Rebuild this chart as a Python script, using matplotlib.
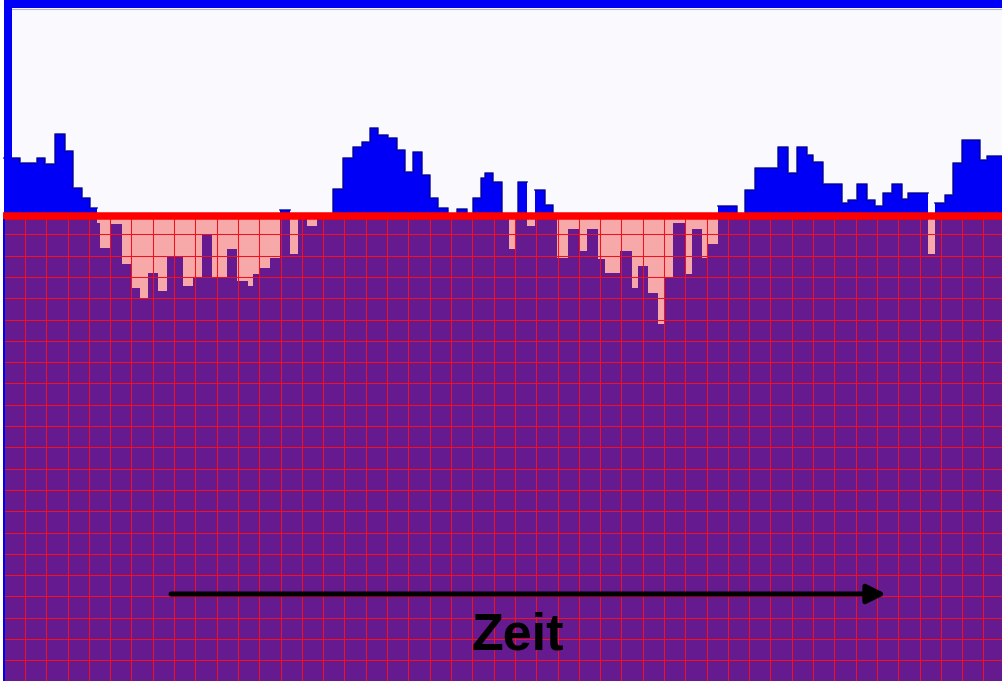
import matplotlib
matplotlib.use("Agg")
import matplotlib.pyplot as plt
import numpy as np
from matplotlib.patches import Rectangle

# ---- data: load profile relative to the threshold (threshold = 0) ----
# time breakpoints (arbitrary time units) and load value held over each interval
t_edges = [4, 20, 37, 45, 55, 65, 73, 82, 90, 97, 100, 110, 122, 132, 140, 148,
           158, 167, 183, 193, 202, 212, 227, 237, 248, 253, 260, 270, 280, 290,
           298, 307, 317, 333, 343, 353, 362, 370, 378, 388, 397, 405, 413, 422,
           430, 438, 448, 457, 467, 473, 481, 485, 493, 502, 509, 515, 518, 527,
           535, 545, 553, 557, 568, 580, 587, 598, 605, 620, 632, 638, 648, 658,
           664, 673, 685, 692, 702, 708, 718, 737, 745, 755, 778, 788, 797, 807,
           813, 823, 842, 848, 857, 867, 875, 883, 892, 902, 908, 928, 935, 945,
           953, 962, 980, 987, 1003]
load = [58, 53, 58, 52, 82, 65, 28, 18, 8, -7, -32, -8, -48, -72, -82, -57,
        -75, -40, -70, -62, -18, -62, -33, -65, -70, -58, -52, -42, 6,
        -38, -1, -10, 1, 27, 58, 69, 74, 88, 81, 78, 66, 44, 64,
        41, 18, 8, 2, 7, 2, 18, 38, 43, 34, 1, -33, 1, 34,
        -10, 26, 11, 1, -42, -13, -35, -13, -43, -57, -35, -72, -50, -77, -108,
        -62, -7, -58, -13, -42, -28, 10, 2, 26, 48, 69, 43, 69, 61,
        54, 32, 13, 16, 32, 16, 10, 23, 32, 17, 23, -38, 13, 21,
        53, 76, 56, 60]
THRESHOLD = 0.0

# ---- styling ----
BLUE = "#0000f6"
PURPLE = "#661a8f"
PINK = "#f7a8a8"
RED = "#ff0000"
GRID_RED = "#f01020"
GRID_STEP = 21.3

fig = plt.figure(figsize=(10.03, 6.81), dpi=100)
fig.patch.set_facecolor("white")
ax = fig.add_axes([0, 0, 1, 1])
ax.set_xlim(0, 1003)
ax.set_ylim(-465.5, 215.5)
ax.axis("off")
ax.set_facecolor("white")

t = np.array(t_edges, dtype=float)
v = np.array(load + [load[-1]], dtype=float)
bottom = ax.get_ylim()[0]

# background of the upper window
ax.add_patch(Rectangle((12, THRESHOLD), 1003 - 12, 207.5 - THRESHOLD,
                       facecolor="#fafafe", edgecolor="none", zorder=0))

# area under the load curve below the threshold (purple)
ax.fill_between(t, bottom, np.minimum(v, THRESHOLD), step="post",
                facecolor=PURPLE, edgecolor="none", zorder=1)
# gap between curve and threshold where load is below (pink)
ax.fill_between(t, np.minimum(v, THRESHOLD), THRESHOLD, step="post",
                facecolor=PINK, edgecolor="none", zorder=1)

# red grid below the threshold
for gx in np.arange(3.7, 1003, GRID_STEP):
    ax.plot([gx, gx], [bottom, THRESHOLD], color=GRID_RED, lw=0.75, zorder=2)
for gy in np.arange(THRESHOLD + 2.5, bottom, -GRID_STEP):
    ax.plot([5, 1003], [gy, gy], color=GRID_RED, lw=0.75, zorder=2)

# load above threshold (blue)
ax.fill_between(t, THRESHOLD, np.maximum(v, THRESHOLD), step="post",
                facecolor=BLUE, edgecolor="none", zorder=3)
# dark top edge of the blue profile
ax.step(t, np.where(v > 0, v, np.nan), where="post", color="#000090",
        lw=1.2, alpha=0.8, zorder=3)

# threshold line
ax.plot([3, 1003], [THRESHOLD, THRESHOLD], color=RED, lw=5.4,
        solid_capstyle="butt", zorder=4)

# window frame (blue)
ax.add_patch(Rectangle((4, 207.5), 1003 - 4, 8, facecolor=BLUE,
                       edgecolor="none", zorder=5))
ax.plot([12, 1003], [206.3, 206.3], color="#b8b8d0", lw=0.8, zorder=5)
ax.add_patch(Rectangle((4, 4), 8, 207.5, facecolor=BLUE,
                       edgecolor="none", zorder=5))
ax.add_patch(Rectangle((3, bottom), 2.2, -3.5 - bottom, facecolor=BLUE,
                       edgecolor="none", zorder=5))

# time arrow and label
ax.annotate("", xy=(886, -378.5), xytext=(171, -378.5),
            arrowprops=dict(arrowstyle="-|>", lw=3.6, color="black",
                            mutation_scale=28, shrinkA=0, shrinkB=0),
            zorder=6)
ax.text(517.5, -434.5, "Zeit", ha="center", va="baseline",
        fontsize=37.5, fontweight="bold", family="Liberation Sans",
        color="black", zorder=6)

fig.savefig("out.png", dpi=100)
